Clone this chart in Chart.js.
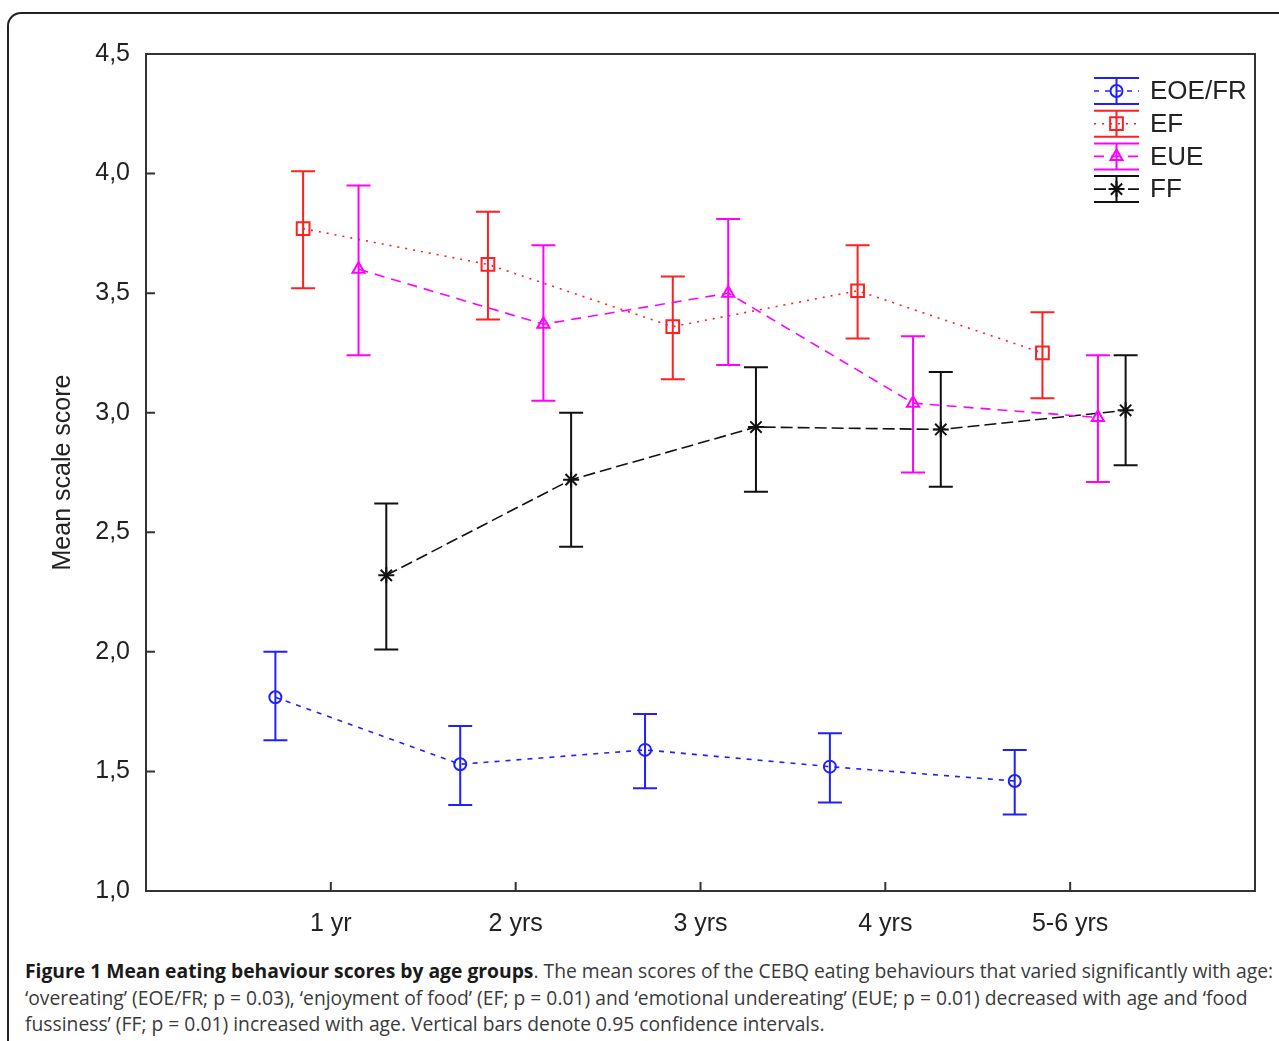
<!DOCTYPE html>
<html lang="en">
<head>
<meta charset="UTF-8">
<title>Mean eating behaviour scores by age groups</title>
<script src="https://cdn.jsdelivr.net/npm/chart.js"></script>
<style>
  html, body { margin: 0; padding: 0; background: #fff; width: 1279px; height: 1041px; overflow: hidden; }
  #frame { position: absolute; left: 7px; top: 12px; width: 1400px; height: 1200px; border: 2px solid #222; border-radius: 14px; }
  #wrap { position: absolute; left: 0; top: 0; width: 1279px; height: 951px; }
  #caption { position: absolute; left: 25px; top: 958px; font-family: "Open Sans", sans-serif; font-size: 19.3px; line-height: 26.5px; color: #3a3a3a; white-space: nowrap; }
  #caption b { color: #1a1a1a; }
</style>
</head>
<body>
<div id="frame"></div>
<div id="wrap"><canvas id="chart" width="1279" height="951"></canvas></div>
<div id="caption">
  <b>Figure 1 Mean eating behaviour scores by age groups</b>. The mean scores of the CEBQ eating behaviours that varied significantly with age:<br>
  ‘overeating’ (EOE/FR; p = 0.03), ‘enjoyment of food’ (EF; p = 0.01) and ‘emotional undereating’ (EUE; p = 0.01) decreased with age and ‘food<br>
  fussiness’ (FF; p = 0.01) increased with age. Vertical bars denote 0.95 confidence intervals.
</div>

<script>
// data
const ageGroups = ['1 yr', '2 yrs', '3 yrs', '4 yrs', '5-6 yrs'];
const yTicks = [1.0, 1.5, 2.0, 2.5, 3.0, 3.5, 4.0, 4.5];

const eoeMean = [1.81, 1.53, 1.59, 1.52, 1.46];
const eoeLow  = [1.63, 1.36, 1.43, 1.37, 1.32];
const eoeHigh = [2.00, 1.69, 1.74, 1.66, 1.59];

const efMean = [3.77, 3.62, 3.36, 3.51, 3.25];
const efLow  = [3.52, 3.39, 3.14, 3.31, 3.06];
const efHigh = [4.01, 3.84, 3.57, 3.70, 3.42];

const eueMean = [3.60, 3.37, 3.50, 3.04, 2.98];
const eueLow  = [3.24, 3.05, 3.20, 2.75, 2.71];
const eueHigh = [3.95, 3.70, 3.81, 3.32, 3.24];

const ffMean = [2.32, 2.72, 2.94, 2.93, 3.01];
const ffLow  = [2.01, 2.44, 2.67, 2.69, 2.78];
const ffHigh = [2.62, 3.00, 3.19, 3.17, 3.24];

const axisFont = { family: '"Liberation Sans", Arial, sans-serif', size: 25 };
const textColor = '#222';

function series(label, mean, low, high, color, dash, pointStyle, radius, offset) {
  return {
    label: label,
    data: mean.map((v, i) => ({ x: i + 1 + offset, y: v })),
    errLow: low,
    errHigh: high,
    offset: offset,
    showLine: true,
    borderColor: color,
    borderWidth: 1.6,
    borderDash: dash,
    pointStyle: pointStyle,
    pointRadius: radius,
    pointBorderWidth: 2,
    pointBorderColor: color,
    pointBackgroundColor: 'rgba(0,0,0,0)',
    clip: false
  };
}

const datasets = [
  series('EOE/FR', eoeMean, eoeLow, eoeHigh, '#2020ff', [5, 6], 'circle', 6, -0.3),
  series('EF', efMean, efLow, efHigh, '#ff2020', [2, 6], 'rect', 9, -0.15),
  series('EUE', eueMean, eueLow, eueHigh, '#ff00ff', [10, 7], 'triangle', 7, 0.15),
  series('FF', ffMean, ffLow, ffHigh, '#111111', [12, 5], 'star', 8, 0.3)
];

// frame round the plot and inward tick marks
const framePlugin = {
  id: 'frame',
  beforeDatasetsDraw(chart) {
    const { ctx, chartArea: a, scales } = chart;
    ctx.save();
    ctx.strokeStyle = '#333';
    ctx.lineWidth = 2;
    ctx.strokeRect(a.left, a.top, a.right - a.left, a.bottom - a.top);
    ctx.beginPath();
    yTicks.forEach(v => {
      const y = scales.y.getPixelForValue(v);
      ctx.moveTo(a.left, y);
      ctx.lineTo(a.left + 9, y);
    });
    ageGroups.forEach((_, i) => {
      const x = scales.x.getPixelForValue(i + 1);
      ctx.moveTo(x, a.bottom);
      ctx.lineTo(x, a.bottom - 9);
    });
    ctx.stroke();
    ctx.restore();
  }
};

// confidence interval whiskers
const errorBars = {
  id: 'errorBars',
  beforeDatasetsDraw(chart) {
    const { ctx, scales } = chart;
    ctx.save();
    ctx.lineWidth = 2;
    chart.data.datasets.forEach(ds => {
      ctx.strokeStyle = ds.borderColor;
      ds.errLow.forEach((lo, i) => {
        const x = scales.x.getPixelForValue(i + 1 + ds.offset);
        const y1 = scales.y.getPixelForValue(lo);
        const y2 = scales.y.getPixelForValue(ds.errHigh[i]);
        ctx.beginPath();
        ctx.moveTo(x, y1); ctx.lineTo(x, y2);
        ctx.moveTo(x - 12, y1); ctx.lineTo(x + 12, y1);
        ctx.moveTo(x - 12, y2); ctx.lineTo(x + 12, y2);
        ctx.stroke();
      });
    });
    ctx.restore();
  }
};

// legend in the top right corner with whisker glyphs
const legendPlugin = {
  id: 'customLegend',
  afterDraw(chart) {
    const { ctx } = chart;
    const x0 = 1094, x1 = 1139, cx = 1116.5;
    ctx.save();
    chart.data.datasets.forEach((ds, k) => {
      const cy = 91 + k * 32.7;
      ctx.strokeStyle = ds.borderColor;
      ctx.lineWidth = 2;
      ctx.setLineDash([]);
      ctx.beginPath();
      ctx.moveTo(x0, cy - 13); ctx.lineTo(x1, cy - 13);
      ctx.moveTo(x0, cy + 13); ctx.lineTo(x1, cy + 13);
      ctx.moveTo(cx, cy - 13); ctx.lineTo(cx, cy + 13);
      ctx.stroke();
      ctx.lineWidth = 1.6;
      ctx.setLineDash(ds.borderDash);
      ctx.beginPath();
      ctx.moveTo(x0, cy); ctx.lineTo(x1, cy);
      ctx.stroke();
      ctx.setLineDash([]);
      ctx.lineWidth = 2;
      ctx.fillStyle = 'rgba(0,0,0,0)';
      Chart.helpers.drawPoint(ctx, { pointStyle: ds.pointStyle, radius: ds.pointRadius, borderWidth: 2 }, cx, cy);
      ctx.fillStyle = textColor;
      ctx.font = '26px "Liberation Sans", Arial, sans-serif';
      ctx.textBaseline = 'middle';
      ctx.fillText(ds.label, 1150, cy + 1);
    });
    ctx.restore();
  }
};

new Chart(document.getElementById('chart'), {
  type: 'scatter',
  data: { datasets: datasets },
  options: {
    responsive: false,
    animation: false,
    layout: { padding: { top: 54, right: 24, left: 0, bottom: 0 } },
    plugins: { legend: { display: false }, tooltip: { enabled: false } },
    scales: {
      x: {
        type: 'linear',
        min: 0,
        max: 6,
        grid: { display: false, drawTicks: false },
        border: { display: false },
        afterBuildTicks: s => { s.ticks = ageGroups.map((_, i) => ({ value: i + 1 })); },
        afterFit: s => { s.height = 60; },
        ticks: {
          autoSkip: false,
          maxRotation: 0,
          padding: 18,
          color: textColor,
          font: axisFont,
          callback: v => ageGroups[Math.round(v) - 1]
        }
      },
      y: {
        min: 1,
        max: 4.5,
        grid: { display: false, drawTicks: false },
        border: { display: false },
        afterBuildTicks: s => { s.ticks = yTicks.map(v => ({ value: v })); },
        afterFit: s => { s.width = 146; },
        ticks: {
          padding: 16,
          color: textColor,
          font: axisFont,
          callback: v => v.toFixed(1).replace('.', ',')
        },
        title: {
          display: true,
          text: 'Mean scale score',
          color: textColor,
          font: axisFont,
          padding: { top: 48, bottom: 0 }
        }
      }
    }
  },
  plugins: [framePlugin, errorBars, legendPlugin]
});
</script>
</body>
</html>
